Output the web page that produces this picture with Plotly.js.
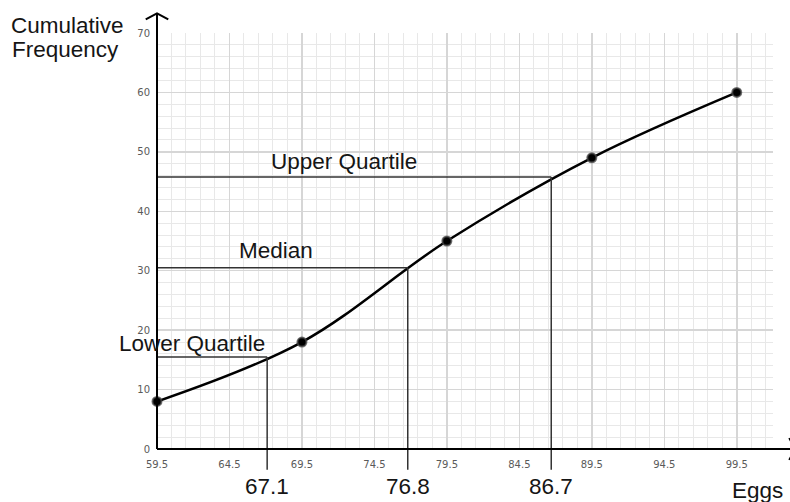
<!DOCTYPE html>
<html>
<head>
<meta charset="utf-8">
<script src="https://cdn.plot.ly/plotly-3.0.1.min.js"></script>
<style>
  html, body { margin: 0; padding: 0; background: #ffffff; }
  #chart { width: 790px; height: 502px; }
</style>
</head>
<body>
<div id="chart"></div>
<script>
// ---- data ----
const eggs = [59.5, 69.5, 79.5, 89.5, 99.5];
const cumFreq = [8, 18, 35, 49, 60];

const quartileNames = ['Lower Quartile', 'Median', 'Upper Quartile'];
const quartileEggs = [67.1, 76.8, 86.7];
const quartileCum = [15.5, 30.5, 45.75];

const xTickVals = [59.5, 64.5, 69.5, 74.5, 79.5, 84.5, 89.5, 94.5, 99.5];
const xTickText = ['59.5', '64.5', '69.5', '74.5', '79.5', '84.5', '89.5', '94.5', '99.5'];
const yTickVals = [0, 10, 20, 30, 40, 50, 60, 70];
const yTickText = ['0', '10', '20', '30', '40', '50', '60', '70'];

const xTitle = 'Eggs';
const yTitleLines = ['Cumulative', 'Frequency'];

// ---- styling / layout ----
const bigFont = { family: 'Liberation Sans, Arial, sans-serif', size: 22.5, color: '#151515' };
const tickFont = { family: 'DejaVu Sans, sans-serif', size: 10, color: '#5a5a5a' };
const nameX = [-0.0655, 0.1305, 0.1818];   // paper x of quartile name labels (left edge)
const nameShift = [13, 17, 16];
const qLine = { color: '#333333', width: 1.5, dash: 'solid' };

const curve = {
  x: eggs,
  y: cumFreq,
  type: 'scatter',
  mode: 'lines+markers',
  line: { color: '#000000', width: 2.5, shape: 'spline', smoothing: 1 },
  marker: { color: '#000000', size: 9, line: { color: 'rgba(70,70,70,0.75)', width: 2 } },
  cliponaxis: false,
  hoverinfo: 'skip',
  showlegend: false
};

const shapes = [];
const annotations = [];

quartileNames.forEach((name, i) => {
  // horizontal from y axis to the curve
  shapes.push({ type: 'line', xref: 'x', yref: 'y', x0: xTickVals[0], x1: quartileEggs[i],
    y0: quartileCum[i], y1: quartileCum[i], line: qLine });
  // vertical from curve down to axis
  shapes.push({ type: 'line', xref: 'x', yref: 'y', x0: quartileEggs[i], x1: quartileEggs[i],
    y0: 0, y1: quartileCum[i], line: qLine });
  // extension below the axis
  shapes.push({ type: 'line', xref: 'x', yref: 'paper', x0: quartileEggs[i], x1: quartileEggs[i],
    y0: 0, y1: -0.05, line: qLine });
  annotations.push({ text: name, xref: 'paper', yref: 'y', x: nameX[i], y: quartileCum[i],
    xanchor: 'left', yanchor: 'middle', yshift: nameShift[i], showarrow: false, font: bigFont });
  annotations.push({ text: String(quartileEggs[i]), xref: 'x', yref: 'paper', x: quartileEggs[i], y: -0.089,
    xanchor: 'center', yanchor: 'middle', showarrow: false, font: bigFont });
});

// axes drawn as shapes (with arrow extensions)
shapes.push({ type: 'line', xref: 'paper', yref: 'paper', x0: 0, x1: 0, y0: 0, y1: 1.0474,
  line: { color: '#000000', width: 2 } });
shapes.push({ type: 'path', xref: 'paper', yref: 'paper',
  path: 'M -0.0183 1.0325 L 0 1.0474 L 0.0183 1.0325', line: { color: '#000000', width: 2 } });
shapes.push({ type: 'line', xref: 'paper', yref: 'paper', x0: 0, x1: 1.04, y0: 0, y1: 0,
  line: { color: '#000000', width: 2 } });
shapes.push({ type: 'path', xref: 'paper', yref: 'paper',
  path: 'M 1.026 0.0264 L 1.0357 0 L 1.026 -0.0264', line: { color: '#000000', width: 1.5 } });

// axis titles
annotations.push({ text: xTitle, xref: 'paper', yref: 'paper', x: 0.975, y: -0.0986,
  xanchor: 'center', yanchor: 'middle', showarrow: false, font: bigFont });
annotations.push({ text: yTitleLines[0], xref: 'paper', yref: 'paper', x: -0.2405, y: 1.0178,
  xanchor: 'left', yanchor: 'middle', showarrow: false, font: bigFont });
annotations.push({ text: yTitleLines[1], xref: 'paper', yref: 'paper', x: -0.2385, y: 0.960,
  xanchor: 'left', yanchor: 'middle', showarrow: false, font: bigFont });

const layout = {
  width: 790,
  height: 502,
  margin: { l: 157, r: 17, t: 33, b: 53, pad: 0 },
  paper_bgcolor: '#ffffff',
  plot_bgcolor: '#ffffff',
  showlegend: false,
  hovermode: false,
  xaxis: {
    range: [59.5, 102],
    tickmode: 'array',
    tickvals: xTickVals,
    ticktext: xTickText,
    tickfont: tickFont,
    ticks: '',
    ticklabelstandoff: 8,
    showgrid: true,
    gridcolor: '#d6d6d6',
    gridwidth: 1.5,
    minor: { dtick: 1, tick0: 59.5, showgrid: true, gridcolor: '#e8e8e8', gridwidth: 1 },
    zeroline: false,
    showline: false,
    fixedrange: true
  },
  yaxis: {
    range: [0, 70],
    tickmode: 'array',
    tickvals: yTickVals,
    ticktext: yTickText,
    tickfont: tickFont,
    ticks: '',
    ticklabelstandoff: 6,
    showgrid: true,
    gridcolor: '#d6d6d6',
    gridwidth: 1.5,
    minor: { dtick: 2, tick0: 0, showgrid: true, gridcolor: '#e8e8e8', gridwidth: 1 },
    zeroline: false,
    showline: false,
    fixedrange: true
  },
  shapes: shapes,
  annotations: annotations
};

Plotly.newPlot('chart', [curve], layout, { displayModeBar: false, staticPlot: true });
</script>
</body>
</html>
